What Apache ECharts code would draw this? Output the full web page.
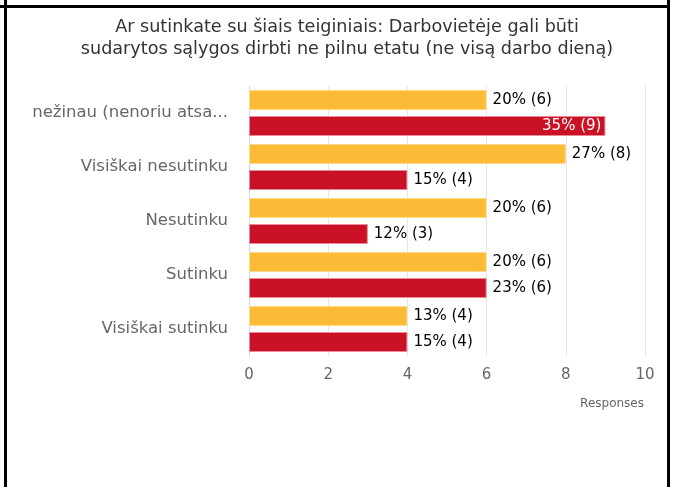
<!DOCTYPE html>
<html>
<head>
<meta charset="utf-8">
<script src="https://cdn.jsdelivr.net/npm/echarts@6/dist/echarts.min.js"></script>
<style>
  html, body { margin: 0; padding: 0; background: #fff; }
  #wrap { position: relative; width: 675px; height: 487px; overflow: hidden; }
  #chart { position: absolute; left: 0; top: 0; width: 675px; height: 487px; }
  .ln { position: absolute; background: #000; }
</style>
</head>
<body>
<div id="wrap">
  <div id="chart"></div>
  <div class="ln" style="left:0;top:5px;width:670px;height:3px;"></div>
  <div class="ln" style="left:4px;top:0;width:3px;height:487px;"></div>
  <div class="ln" style="left:667px;top:0;width:3px;height:487px;"></div>
</div>
<script>
// Chart data
const categories = ['nežinau (nenoriu atsa...', 'Visiškai nesutinku', 'Nesutinku', 'Sutinku', 'Visiškai sutinku'];
const yellowCounts = [6, 8, 6, 6, 4];
const yellowPct = [20, 27, 20, 20, 13];
const redCounts = [9, 4, 3, 6, 4];
const redPct = [35, 15, 12, 23, 15];
const xTicks = [0, 2, 4, 6, 8, 10];

const chart = echarts.init(document.getElementById('chart'));

function makeLabel(pct) {
    return p => pct[p.dataIndex] + '% (' + p.value + ')';
}

const option = {
    animation: false,
    title: {
        text: 'Ar sutinkate su šiais teiginiais: Darbovietėje gali būti\nsudarytos sąlygos dirbti ne pilnu etatu (ne visą darbo dieną)',
        left: 342,
        textAlign: 'center',
        top: 11,
        textStyle: {
            fontFamily: 'DejaVu Sans',
            fontSize: 17.6,
            fontWeight: 'normal',
            color: '#333',
            lineHeight: 22
        }
    },
    grid: { left: 249, right: 30, top: 86, bottom: 131 },
    xAxis: {
        type: 'value',
        min: xTicks[0],
        max: xTicks[xTicks.length - 1],
        interval: 2,
        axisLine: { show: false },
        axisTick: { show: false },
        splitLine: { lineStyle: { color: '#e6e6e6' } },
        axisLabel: { color: '#666', fontSize: 15, fontFamily: 'DejaVu Sans', margin: 12 }
    },
    yAxis: {
        type: 'category',
        data: categories,
        inverse: true,
        axisLine: { lineStyle: { color: '#ccd6eb' } },
        axisTick: { show: false },
        axisLabel: { color: '#666', fontSize: 16.5, fontFamily: 'DejaVu Sans', margin: 21 }
    },
    graphic: [{
        type: 'text',
        right: 31,
        top: 398,
        style: { text: 'Responses', fill: '#666', fontSize: 12, fontFamily: 'DejaVu Sans' }
    }],
    series: [{
        type: 'bar',
        data: yellowCounts,
        barWidth: 20,
        barGap: '30%',
        itemStyle: { color: '#fbbb37', borderColor: '#fdd98a', borderWidth: 1 },
        label: {
            show: true,
            position: 'right',
            distance: 6,
            color: '#000',
            fontSize: 15,
            fontFamily: 'DejaVu Sans',
            formatter: makeLabel(yellowPct)
        }
    }, {
        type: 'bar',
        data: redCounts.map(v => v >= 9 ? {
            value: v,
            label: { position: 'insideRight', color: '#fff', distance: 4 }
        } : v),
        barWidth: 20,
        itemStyle: { color: '#cb1125', borderColor: '#e58a96', borderWidth: 1 },
        label: {
            show: true,
            position: 'right',
            distance: 6,
            color: '#000',
            fontSize: 15,
            fontFamily: 'DejaVu Sans',
            formatter: makeLabel(redPct)
        }
    }]
};

chart.setOption(option);
</script>
</body>
</html>
